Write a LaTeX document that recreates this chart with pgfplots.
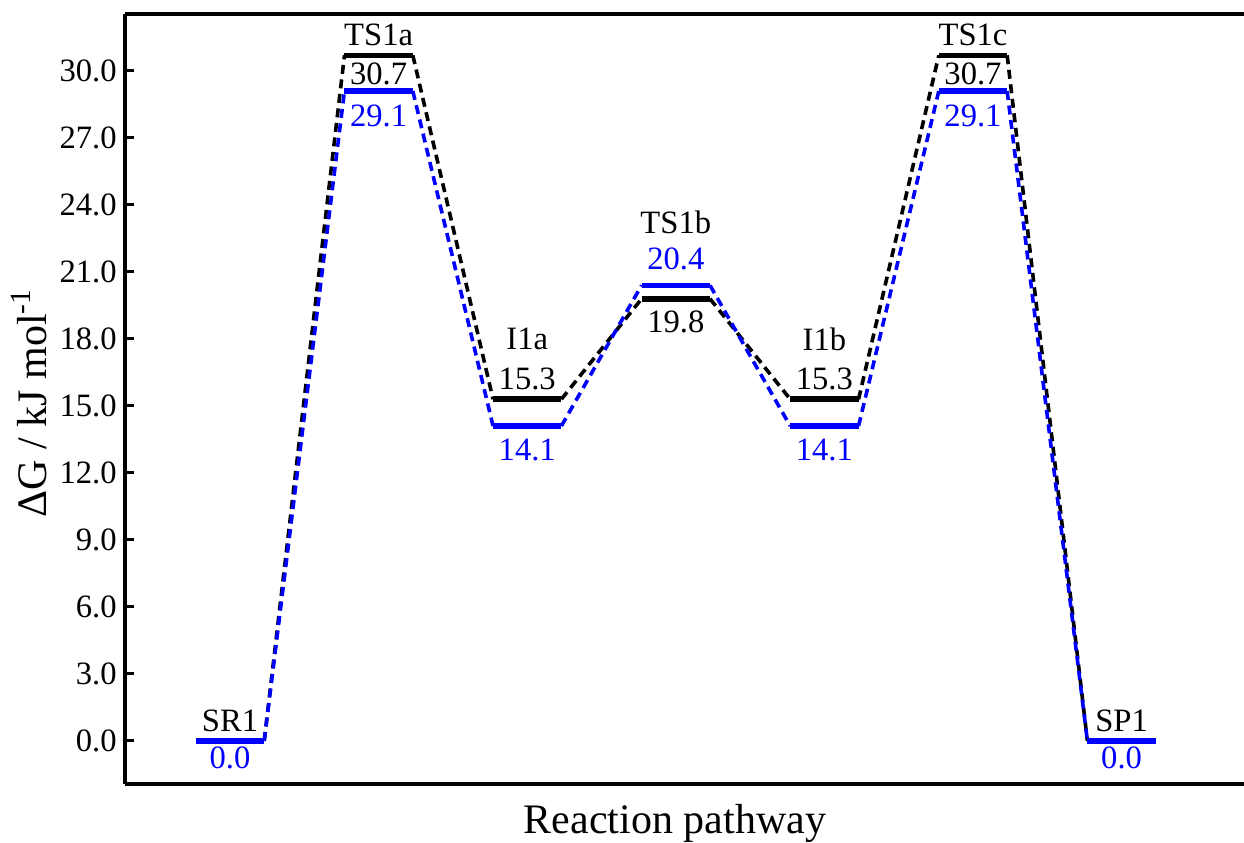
\documentclass[border=0pt]{standalone}
\usepackage{pgfplots}
\pgfplotsset{compat=1.18}
\usepackage{fontspec}
\setmainfont{Liberation Serif}
\definecolor{pblue}{RGB}{0,0,255}
\newcommand{\lab}{\fontsize{16.3}{19}\selectfont}
\begin{document}
\begin{tikzpicture}
\begin{axis}[
  scale only axis, width=559.5pt, height=385pt,
  xmin=-0.707, xmax=6.824, ymin=-1.93, ymax=32.55,
  axis lines*=left, axis line style={line width=1.7pt},
  xtick=\empty,
  ytick={0,3,6,9,12,15,18,21,24,27,30},
  tick align=inside, major tick length=4.5pt,
  every tick/.style={black, line width=1.5pt},
  /pgf/number format/assume math mode=true,
  y tick label style={/pgf/number format/fixed,/pgf/number format/fixed zerofill,
    /pgf/number format/precision=1, inner sep=0pt, xshift=-4pt},
  tick label style={font=\lab},
  every axis y label/.style={at={(axis description cs:-0.0858,0.495)},rotate=90,anchor=center},
  every axis x label/.style={at={(axis description cs:0.4915,-0.0506)},anchor=center},
  label style={font=\fontsize{21}{24}\selectfont},
  ylabel={ΔG / kJ mol\textsuperscript{-1}},
  xlabel={Reaction pathway},
  unbounded coords=jump,
  clip=false]

% dashed connectors
\addplot[black, line width=1.8pt, dash pattern=on 4.5pt off 2.8pt] coordinates {
  (0.23,0)(0.77,30.7) (nan,nan) (1.23,30.7)(1.77,15.3) (nan,nan)
  (2.23,15.3)(2.77,19.8) (nan,nan) (3.23,19.8)(3.77,15.3) (nan,nan)
  (4.23,15.3)(4.77,30.7) (nan,nan) (5.23,30.7)(5.77,0)};
\addplot[pblue, line width=1.8pt, dash pattern=on 4.5pt off 2.8pt] coordinates {
  (0.23,0)(0.77,29.1) (nan,nan) (1.23,29.1)(1.77,14.1) (nan,nan)
  (2.23,14.1)(2.77,20.4) (nan,nan) (3.23,20.4)(3.77,14.1) (nan,nan)
  (4.23,14.1)(4.77,29.1) (nan,nan) (5.23,29.1)(5.77,0)};

% energy levels
\addplot[black, line width=2.8pt] coordinates {
  (-0.23,0)(0.23,0) (nan,nan) (0.77,30.7)(1.23,30.7) (nan,nan)
  (1.77,15.3)(2.23,15.3) (nan,nan) (2.77,19.8)(3.23,19.8) (nan,nan)
  (3.77,15.3)(4.23,15.3) (nan,nan) (4.77,30.7)(5.23,30.7) (nan,nan)
  (5.77,0)(6.23,0)};
\addplot[pblue, line width=2.8pt] coordinates {
  (-0.23,0)(0.23,0) (nan,nan) (0.77,29.1)(1.23,29.1) (nan,nan)
  (1.77,14.1)(2.23,14.1) (nan,nan) (2.77,20.4)(3.23,20.4) (nan,nan)
  (3.77,14.1)(4.23,14.1) (nan,nan) (4.77,29.1)(5.23,29.1) (nan,nan)
  (5.77,0)(6.23,0)};

\draw[line width=1.7pt] (rel axis cs:0,1) -- (rel axis cs:1,1);

% names
\node[font=\lab] at (axis cs:0,0.9) {SR1};
\node[font=\lab] at (axis cs:1,31.6) {TS1a};
\node[font=\lab] at (axis cs:2,18.0) {I1a};
\node[font=\lab] at (axis cs:3,23.2) {TS1b};
\node[font=\lab] at (axis cs:4,18.0) {I1b};
\node[font=\lab] at (axis cs:5,31.6) {TS1c};
\node[font=\lab] at (axis cs:6,0.9) {SP1};
% values
\node[font=\lab,pblue] at (axis cs:0,-0.74) {0.0};
\node[font=\lab] at (axis cs:1,29.87) {30.7};
\node[font=\lab,pblue] at (axis cs:1,27.99) {29.1};
\node[font=\lab] at (axis cs:2,16.2) {15.3};
\node[font=\lab,pblue] at (axis cs:2,13.05) {14.1};
\node[font=\lab,pblue] at (axis cs:3,21.6) {20.4};
\node[font=\lab] at (axis cs:3,18.76) {19.8};
\node[font=\lab] at (axis cs:4,16.2) {15.3};
\node[font=\lab,pblue] at (axis cs:4,13.05) {14.1};
\node[font=\lab] at (axis cs:5,29.87) {30.7};
\node[font=\lab,pblue] at (axis cs:5,27.99) {29.1};
\node[font=\lab,pblue] at (axis cs:6,-0.74) {0.0};
\end{axis}
\pgfresetboundingbox
\path ([shift={(-62.5pt,-29pt)}]current axis.south west) rectangle ([shift={(0pt,7pt)}]current axis.north east);
\end{tikzpicture}
\end{document}
